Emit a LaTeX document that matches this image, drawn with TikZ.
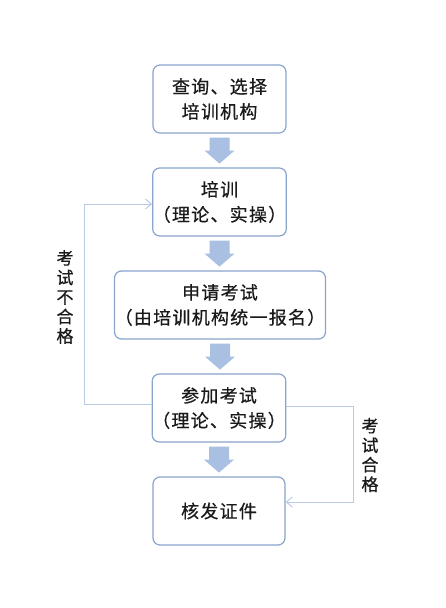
\documentclass[tikz,border=0pt]{standalone}
\usepackage{fontspec}
\setmainfont{Noto Sans CJK SC}[FakeBold=0.6, LetterSpace=7]
\newfontfamily\sidefont{Noto Sans CJK SC}[FakeBold=0.6]
\usetikzlibrary{calc,arrows.meta}
\definecolor{boxline}{HTML}{8AA5CC}
\definecolor{arrowfill}{HTML}{A9C0E2}
\definecolor{loopline}{HTML}{B9CBE3}
\definecolor{txt}{HTML}{1A1A1A}
\tikzset{
  stepbox/.style={draw=boxline, line width=1.2pt, rounded corners=7pt, fill=white,
    text=txt, align=center, inner xsep=0pt, font=\fontsize{18pt}{25pt}\selectfont},
  loop/.style={draw=loopline, line width=1pt},
  looptip/.style={-{Straight Barb[length=6pt,width=10pt]}},
  sidelabel/.style={text=txt, align=center, font=\sidefont\fontsize{17pt}{19.5pt}\selectfont, inner sep=0pt}
}
\newcommand{\blockarr}[2]{%
  \fill[arrowfill] ($(#1.south)+(-10,4)$) -- ++(20,0) -- ++(0,13) -- ++(5,0)
    -- ($(#1.south)+(0,30)$) -- ($(#1.south)+(-15,17)$) -- ++(5,0) -- cycle;}
\begin{document}
\begin{tikzpicture}[x=1pt,y=-1pt]
\useasboundingbox[fill=white] (0,0) rectangle (445,608);
\node[stepbox, minimum width=133pt, minimum height=68pt] (b1) at (219.5,99) {查询、选择\\培训机构};
\node[stepbox, minimum width=133pt, minimum height=68pt] (b2) at (219.5,202) {培训\\（理论、实操）};
\node[stepbox, minimum width=211pt, minimum height=68pt] (b3) at (220,305) {申请考试\\（由培训机构统一报名）};
\node[stepbox, minimum width=132pt, minimum height=68pt] (b4) at (219,408) {参加考试\\（理论、实操）};
\node[stepbox, minimum width=132pt, minimum height=68pt] (b5) at (219,511) {核发证件};
\blockarr{b1}{b2}
\blockarr{b2}{b3}
\blockarr{b3}{b4}
\blockarr{b4}{b5}
\coordinate (lc1) at (84,404);
\coordinate (lc2) at (84,204);
\draw[loop, looptip] (lc1 -| b4.west) -- (lc1) -- (lc2) -- (lc2 -| b2.west);
\coordinate (rc1) at (353,406);
\coordinate (rc2) at (353,502);
\draw[loop, looptip] (rc1 -| b4.east) -- (rc1) -- (rc2) -- (rc2 -| b5.east);
\node[sidelabel] (lbl1) at (65,297) {考\\试\\不\\合\\格};
\node[sidelabel] (lbl2) at (370,455) {考\\试\\合\\格};
\end{tikzpicture}
\end{document}
